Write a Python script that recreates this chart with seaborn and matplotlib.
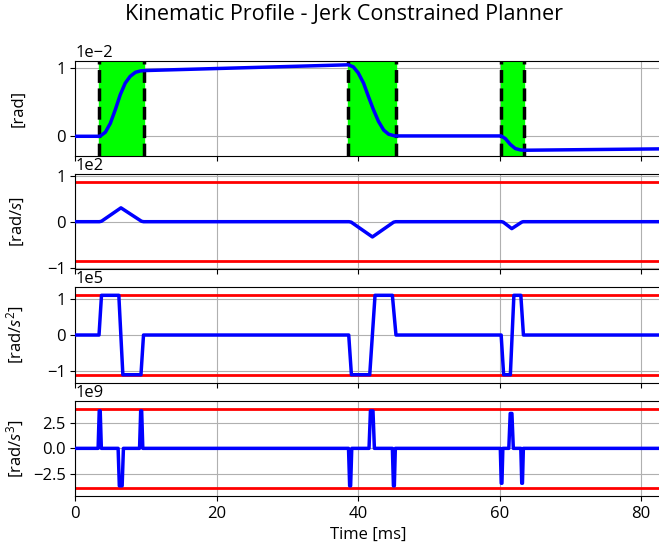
import matplotlib
matplotlib.use('Agg')
import matplotlib.pyplot as plt
import seaborn as sns

# values, time in ms
# position, x 1e-2 rad
pos_t = [0, 3.4, 3.55, 4.25, 4.95, 5.65, 6.35, 7.05, 7.75, 8.5, 9.2, 9.7,
         38.6, 39.3, 40.0, 40.75, 41.45, 42.15, 42.85, 43.6, 44.3, 45.2,
         60.2, 60.8, 61.5, 62.2, 62.9, 63.4, 82.7]
pos_val = [0, 0, 0.005, 0.06, 0.19, 0.39, 0.61, 0.78, 0.88, 0.94, 0.96, 0.965,
           1.05, 1.02, 0.93, 0.78, 0.58, 0.39, 0.22, 0.09, 0.03, 0.005,
           0.005, -0.035, -0.12, -0.18, -0.2, -0.205, -0.185]

# velocity, x 1e2 rad/s
vel_t = [0, 3.4, 3.7, 6.45, 9.35, 9.65,
         38.7, 39.0, 42.0, 45.0, 45.3,
         60.25, 60.5, 61.7, 63.1, 63.3, 82.7]
vel_val = [0, 0, 0.01, 0.30, 0.01, 0,
           0, -0.01, -0.33, -0.01, 0,
           0, -0.01, -0.15, -0.01, 0, 0]

# acceleration, x 1e5 rad/s^2
acc_t = [0, 3.35, 3.7, 6.15, 6.72, 9.28, 9.64,
         38.65, 39.03, 41.62, 42.37, 44.82, 45.33,
         60.2, 60.55, 61.5, 62.0, 62.98, 63.35, 82.7]
acc_val = [0, 0, 1.1, 1.1, -1.1, -1.1, 0,
           0, -1.1, -1.1, 1.1, 1.1, 0,
           0, -1.1, -1.1, 1.1, 1.1, 0, 0]

# jerk, x 1e9 rad/s^3
jerk_t = [0, 3.22, 3.38, 3.52, 3.68,
          6.05, 6.22, 6.62, 6.8,
          9.08, 9.24, 9.38, 9.54,
          38.62, 38.78, 38.92, 39.08,
          41.52, 41.72, 42.08, 42.28,
          44.82, 44.97, 45.1, 45.24,
          60.08, 60.21, 60.31, 60.44,
          61.28, 61.48, 61.72, 61.92,
          62.98, 63.11, 63.21, 63.34, 82.7]
jerk_val = [0, 0, 3.65, 3.65, 0,
            0, -3.65, -3.65, 0,
            0, 3.65, 3.65, 0,
            0, -3.65, -3.65, 0,
            0, 3.65, 3.65, 0,
            0, -3.65, -3.65, 0,
            0, -3.4, -3.4, 0,
            0, 3.4, 3.4, 0,
            0, -3.4, -3.4, 0, 0]

# motion segments (green) and limits
move_start = [3.39, 38.6, 60.2]
move_end = [9.71, 45.3, 63.4]
v_max = 0.86
a_max = 1.1
j_max = 3.87

plt.rcParams['font.family'] = ['Open Sans', 'DejaVu Sans']
plt.rcParams['mathtext.fontset'] = 'custom'
plt.rcParams['mathtext.rm'] = 'Open Sans'
plt.rcParams['mathtext.it'] = 'Open Sans:italic'
plt.rcParams['font.size'] = 12

fig, axes = plt.subplots(4, 1, sharex=True, figsize=(6.59, 5.57), dpi=100)
fig.subplots_adjust(left=0.1143, right=1.002, top=0.891, bottom=0.1095, hspace=0.189)

panels = [
    (pos_t, pos_val, 1e-2, '[rad]', None, [0, 1]),
    (vel_t, vel_val, 1e2, '[rad/$s$]', v_max, [-1, 0, 1]),
    (acc_t, acc_val, 1e5, '[rad/$s^2$]', a_max, [-1, 0, 1]),
    (jerk_t, jerk_val, 1e9, '[rad/$s^3$]', j_max, [-2.5, 0, 2.5]),
]

for ax, (t, val, scale, label, lim, ticks) in zip(axes, panels):
    y = [v * scale for v in val]
    if lim is None:
        for s, e in zip(move_start, move_end):
            ax.axvspan(s, e, color='lime', zorder=1)
            ax.axvline(s, color='k', ls='--', lw=2.5, zorder=3)
            ax.axvline(e, color='k', ls='--', lw=2.5, zorder=3)
        ax.set_ylim(-0.29 * scale, 1.11 * scale)
    else:
        ax.axhline(lim * scale, color='red', lw=2, zorder=2)
        ax.axhline(-lim * scale, color='red', lw=2, zorder=2)
        ax.set_ylim(-1.2 * lim * scale, 1.2 * lim * scale)
    sns.lineplot(x=t, y=y, ax=ax, color='blue', lw=2.5, estimator=None, zorder=4)
    ax.set_yticks([k * scale for k in ticks])
    ax.ticklabel_format(axis='y', style='sci', scilimits=(0, 0))
    ax.grid(True, zorder=0)
    ax.set_axisbelow(True)
    ax.set_ylabel(label)
    ax.yaxis.set_label_coords(-0.084, 0.5)

axes[-1].set_xlim(0, 82.7)
axes[-1].set_xticks([0, 20, 40, 60, 80])
axes[-1].set_xlabel('Time [ms]')
fig.suptitle('Kinematic Profile - Jerk Constrained Planner', x=0.522, y=0.993, fontsize=15.5)

fig.savefig('out.png', dpi=100)
